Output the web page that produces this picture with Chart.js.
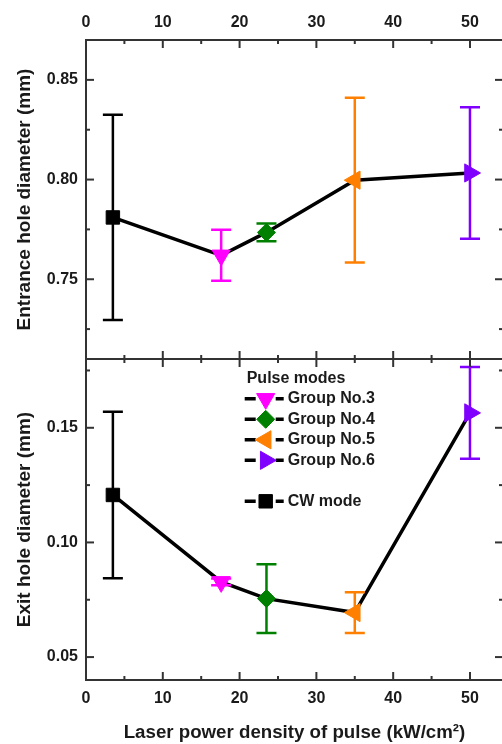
<!DOCTYPE html>
<html>
<head>
<meta charset="utf-8">
<title>Hole diameter vs. laser power density</title>
<script src="https://cdn.jsdelivr.net/npm/chart.js@4.4.1/dist/chart.umd.min.js"></script>
<style>
  html, body { margin: 0; padding: 0; background: #fff; overflow: hidden; }
  #wrap { position: relative; width: 502px; height: 744px; overflow: hidden; }
  canvas { position: absolute; left: 0; }
  #entrance { top: 0; }
  #exit { top: 358px; }
</style>
</head>
<body>
<div id="wrap">
  <canvas id="entrance" width="504" height="360"></canvas>
  <canvas id="exit" width="504" height="386"></canvas>
</div>
<script>
// measurements: mean diameter and spread for each irradiation mode
const modes = ['CW mode', 'Group No.3', 'Group No.4', 'Group No.5', 'Group No.6'];
const power = [3.5, 17.6, 23.5, 35, 50]; // kW/cm2
const entranceMean = [0.781, 0.762, 0.7735, 0.7997, 0.8033];
const entranceErr = [0.0515, 0.0128, 0.0045, 0.0413, 0.033];
const exitMean = [0.1207, 0.0828, 0.0755, 0.0694, 0.1565];
const exitErr = [0.0363, 0.0015, 0.015, 0.0089, 0.020];

// tick labels
const xLabels = [0, 10, 20, 30, 40, 50];
const entranceLabels = [0.75, 0.80, 0.85];
const exitLabels = [0.05, 0.10, 0.15];

// marker styling per mode
const modeColor = ['#000000', '#ff00ff', '#008000', '#ff8000', '#8000ff'];
const modeStyle = ['rect', 'triangle', 'rectRot', 'triangle', 'triangle'];
const modeRotation = [0, 180, 0, -90, 90];
const modeRadius = [9.5, 10.5, 9, 10.5, 10.5];

const FONT = '"Liberation Sans", Arial, Helvetica, sans-serif';
const INK = '#1a1a1a';
const FRAME = '#333333';

Chart.defaults.font.family = FONT;
Chart.defaults.font.size = 16;
Chart.defaults.font.weight = 'bold';
Chart.defaults.color = INK;

// vertical error bars with caps, drawn right after the connecting line
const errorBars = {
  id: 'errorBars',
  afterDatasetDraw(chart, args, o) {
    if (!chart.data.datasets[args.index].isTrend) return;
    const { x, y } = chart.scales;
    const ctx = chart.ctx;
    ctx.save();
    ctx.lineWidth = o.width;
    o.mean.forEach((m, i) => {
      const px = x.getPixelForValue(power[i]);
      const top = y.getPixelForValue(m + o.err[i]);
      const bot = y.getPixelForValue(m - o.err[i]);
      ctx.strokeStyle = modeColor[i];
      ctx.beginPath();
      ctx.moveTo(px, top); ctx.lineTo(px, bot);
      ctx.moveTo(px - o.cap, top); ctx.lineTo(px + o.cap, top);
      ctx.moveTo(px - o.cap, bot); ctx.lineTo(px + o.cap, bot);
      ctx.stroke();
    });
    ctx.restore();
  }
};

// tick marks pointing into the plot on all four sides; labelled ticks are longer
const inwardTicks = {
  id: 'inwardTicks',
  afterDraw(chart, args, o) {
    const ctx = chart.ctx;
    const a = chart.chartArea;
    ctx.save();
    ctx.strokeStyle = FRAME;
    ctx.lineWidth = o.width;
    Object.values(chart.scales).forEach(s => {
      s.ticks.forEach(t => {
        const len = t.label !== '' ? o.major : o.minor;
        const p = s.getPixelForValue(t.value);
        ctx.beginPath();
        if (s.position === 'top') { ctx.moveTo(p, a.top); ctx.lineTo(p, a.top + len); }
        else if (s.position === 'bottom') { ctx.moveTo(p, a.bottom); ctx.lineTo(p, a.bottom - len); }
        else if (s.position === 'left') { ctx.moveTo(a.left, p); ctx.lineTo(a.left + len, p); }
        else { ctx.moveTo(a.right, p); ctx.lineTo(a.right - len, p); }
        ctx.stroke();
      });
    });
    ctx.restore();
  }
};

// in-plot legend: "Pulse modes" block followed by the CW entry
const modeLegend = {
  id: 'modeLegend',
  afterDraw(chart, args, o) {
    if (!o.rows) return;
    const ctx = chart.ctx;
    const drawPoint = Chart.helpers.drawPoint;
    ctx.save();
    ctx.font = 'bold 16px ' + FONT;
    ctx.textAlign = 'left';
    ctx.textBaseline = 'middle';
    ctx.fillStyle = INK;
    ctx.fillText(o.title, o.x, o.y);
    o.rows.forEach((name, r) => {
      if (!name) return;
      const i = modes.indexOf(name);
      const cy = o.y + (r + 1) * o.step;
      ctx.strokeStyle = '#000';
      ctx.lineWidth = 3.5;
      ctx.beginPath();
      ctx.moveTo(o.x - 2, cy); ctx.lineTo(o.x + 9, cy);
      ctx.moveTo(o.x + 29, cy); ctx.lineTo(o.x + 37, cy);
      ctx.stroke();
      ctx.fillStyle = modeColor[i];
      ctx.strokeStyle = modeColor[i];
      ctx.lineWidth = 1;
      drawPoint(ctx, { pointStyle: modeStyle[i], rotation: modeRotation[i], radius: modeRadius[i], borderWidth: 1 }, o.x + 19, cy);
      ctx.fillStyle = INK;
      ctx.fillText(name, o.x + 41, cy);
    });
    ctx.restore();
  }
};

function pick(list, digits) {
  return v => list.some(t => Math.abs(t - v) < 1e-6) ? v.toFixed(digits) : '';
}

// fixed axis box size, and no extra room reserved for overhanging labels
function fixSize(prop, size) {
  return s => {
    s[prop] = size;
    s.paddingTop = s.paddingBottom = s.paddingLeft = s.paddingRight = 0;
  };
}

function panel(id, mean, err, yMin, yMax, yLabels, p) {
  const datasets = modes.map((m, i) => ({
    label: m,
    data: [{ x: power[i], y: mean[i] }],
    showLine: false,
    pointStyle: modeStyle[i],
    pointRotation: modeRotation[i],
    pointRadius: modeRadius[i],
    pointHoverRadius: modeRadius[i],
    pointBackgroundColor: modeColor[i],
    pointBorderColor: modeColor[i],
    pointBorderWidth: 1,
    clip: false,
    order: 0
  }));
  datasets.push({
    label: 'trend',
    isTrend: true,
    data: power.map((x, i) => ({ x, y: mean[i] })),
    showLine: true,
    borderColor: '#000',
    borderWidth: 3.5,
    pointRadius: 0,
    order: 1
  });

  const xAxis = (position, showLabels, height, padding, title) => ({
    type: 'linear',
    position,
    min: 0,
    max: 54.3,
    ticks: { stepSize: 5, autoSkip: false, maxRotation: 0, includeBounds: false,
             display: showLabels, padding, callback: pick(xLabels, 0) },
    grid: { display: false, drawTicks: false },
    border: { color: FRAME, width: 2 },
    title: title || { display: false },
    afterFit: fixSize('height', height)
  });
  const yAxis = (position, showLabels, width, title) => ({
    type: 'linear',
    position,
    min: yMin,
    max: yMax,
    ticks: { stepSize: 0.025, autoSkip: false, includeBounds: false,
             display: showLabels, padding: 8, callback: pick(yLabels, 2) },
    grid: { display: false, drawTicks: false },
    border: { color: FRAME, width: 2 },
    title: title ? { display: true, text: title, font: { size: 19, weight: 'bold' },
                     padding: { top: 13, bottom: 0 } } : { display: false },
    afterFit: fixSize('width', width)
  });

  return new Chart(document.getElementById(id), {
    type: 'scatter',
    data: { datasets },
    options: {
      responsive: false,
      devicePixelRatio: 1,
      animation: false,
      layout: { padding: 0, autoPadding: false },
      scales: {
        x: xAxis('bottom', p.bottomLabels, p.bottomH, 9, p.xTitle),
        x2: xAxis('top', p.topLabels, p.topH, 8),
        y: yAxis('left', true, 86, p.yTitle),
        y2: yAxis('right', false, 1)
      },
      plugins: {
        legend: { display: false },
        tooltip: { enabled: false },
        errorBars: { mean, err, width: 2.5, cap: 10 },
        inwardTicks: { major: 8, minor: 4, width: 2 },
        modeLegend: p.legend || {}
      }
    },
    plugins: [errorBars, inwardTicks, modeLegend]
  });
}

panel('entrance', entranceMean, entranceErr, 0.71, 0.87, entranceLabels, {
  topLabels: true, topH: 40,
  bottomLabels: false, bottomH: 1,
  yTitle: 'Entrance hole diameter (mm)'
});

panel('exit', exitMean, exitErr, 0.04, 0.18, exitLabels, {
  topLabels: false, topH: 1,
  bottomLabels: true, bottomH: 64,
  xTitle: { display: true, text: 'Laser power density of pulse (kW/cm\u00B2)',
            font: { size: 18.7, weight: 'bold' }, padding: { top: 0, bottom: 0 } },
  yTitle: 'Exit hole diameter (mm)',
  legend: { title: 'Pulse modes', x: 246.7, y: 20.3, step: 20.5,
            rows: ['Group No.3', 'Group No.4', 'Group No.5', 'Group No.6', null, 'CW mode'] }
});
</script>
</body>
</html>
